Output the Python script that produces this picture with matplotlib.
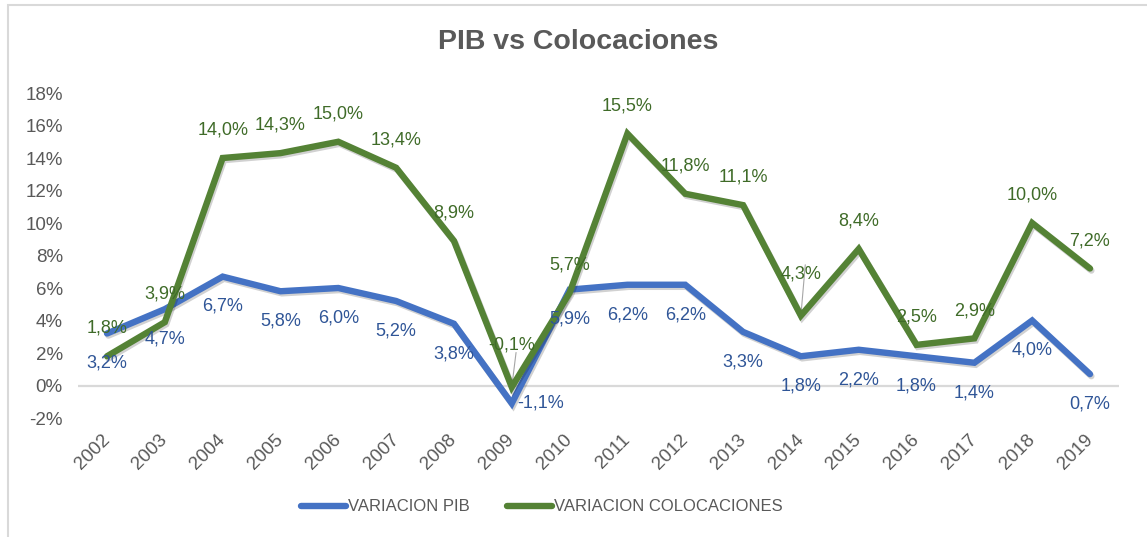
import matplotlib.pyplot as plt
import matplotlib.patheffects as pe
from matplotlib.patches import Rectangle

plt.rcParams["font.family"] = ["Liberation Sans", "DejaVu Sans"]

# datos
years = [str(y) for y in range(2002, 2020)]
var_pib = [3.2, 4.7, 6.7, 5.8, 6.0, 5.2, 3.8, -1.1, 5.9, 6.2, 6.2, 3.3, 1.8, 2.2, 1.8, 1.4, 4.0, 0.7]
var_coloc = [1.8, 3.9, 14.0, 14.3, 15.0, 13.4, 8.9, -0.1, 5.7, 15.5, 11.8, 11.1, 4.3, 8.4, 2.5, 2.9, 10.0, 7.2]
y_ticks = [-2, 0, 2, 4, 6, 8, 10, 12, 14, 16, 18]

BLUE = "#4472C4"
GREEN = "#548235"
BLUE_TXT = "#2F5597"
GREEN_TXT = "#3F6B28"
GRAY = "#595959"


def pct(v):
    return f"{v:.1f}%".replace(".", ",")


fig = plt.figure(figsize=(11.47, 5.37), dpi=100)
# borde del área del gráfico
fig.patches.append(Rectangle((8 / 1147, -0.1), 1.2, (537 - 5) / 537 + 0.1,
                             transform=fig.transFigure, fill=False,
                             edgecolor="#D9D9D9", linewidth=1.5))

ax = fig.add_axes([0.0681, 0.2216, 0.9074, 0.6052])
x = list(range(len(years)))

shadow = [pe.SimpleLineShadow(offset=(1, -1.5), alpha=0.18, shadow_color="black"), pe.Normal()]
ax.axhline(0, color="#D9D9D9", lw=1.6, zorder=1)
ax.plot(x, var_pib, color=BLUE, lw=4.6, solid_capstyle="round", solid_joinstyle="miter",
        label="VARIACION PIB", path_effects=shadow, zorder=3)
ax.plot(x, var_coloc, color=GREEN, lw=4.6, solid_capstyle="round", solid_joinstyle="miter",
        label="VARIACION COLOCACIONES", path_effects=shadow, zorder=3)

# etiquetas de datos
for i, v in enumerate(var_coloc):
    dy = 20
    if i in (7, 12):
        dy = 30
        ax.annotate("", xy=(i, v), xytext=(i + 0.08, v + 3.3 if i == 12 else v + 2.3),
                    arrowprops=dict(arrowstyle="-", color="#A6A6A6", lw=0.8), zorder=2)
    ax.annotate(pct(v), (i, v), xytext=(0, dy), textcoords="offset points",
                ha="center", va="center", fontsize=13, color=GREEN_TXT, zorder=4)

for i, v in enumerate(var_pib):
    if i == 7:
        ax.annotate(pct(v), (i, v), xytext=(21, 0), textcoords="offset points",
                    ha="center", va="center", fontsize=13, color=BLUE_TXT, zorder=4)
    else:
        ax.annotate(pct(v), (i, v), xytext=(0, -21.5), textcoords="offset points",
                    ha="center", va="center", fontsize=13, color=BLUE_TXT, zorder=4)

ax.set_xlim(-0.5, len(years) - 0.5)
ax.set_ylim(-2, 18)
ax.set_yticks(y_ticks)
ax.set_yticklabels([f"{t}%" for t in y_ticks])
ax.set_xticks(x)
ax.set_xticklabels(years, rotation=45, ha="right", va="center", rotation_mode="anchor")
ax.tick_params(axis="both", length=0, labelsize=13.5, labelcolor=GRAY)
ax.tick_params(axis="y", pad=11)
ax.tick_params(axis="x", pad=14)
for s in ax.spines.values():
    s.set_visible(False)

fig.text(0.504, 0.921, "PIB vs Colocaciones", ha="center", va="center",
         fontsize=20.5, fontweight="bold", color=GRAY)

leg = fig.legend(loc="center", bbox_to_anchor=(0.4725, 0.056), ncol=2, frameon=False,
                 fontsize=12, handlelength=2.7, handletextpad=0.15, columnspacing=2.2)
for t in leg.get_texts():
    t.set_color(GRAY)
for h in leg.legend_handles:
    h.set_path_effects([])

fig.savefig("out.png", dpi=100)
